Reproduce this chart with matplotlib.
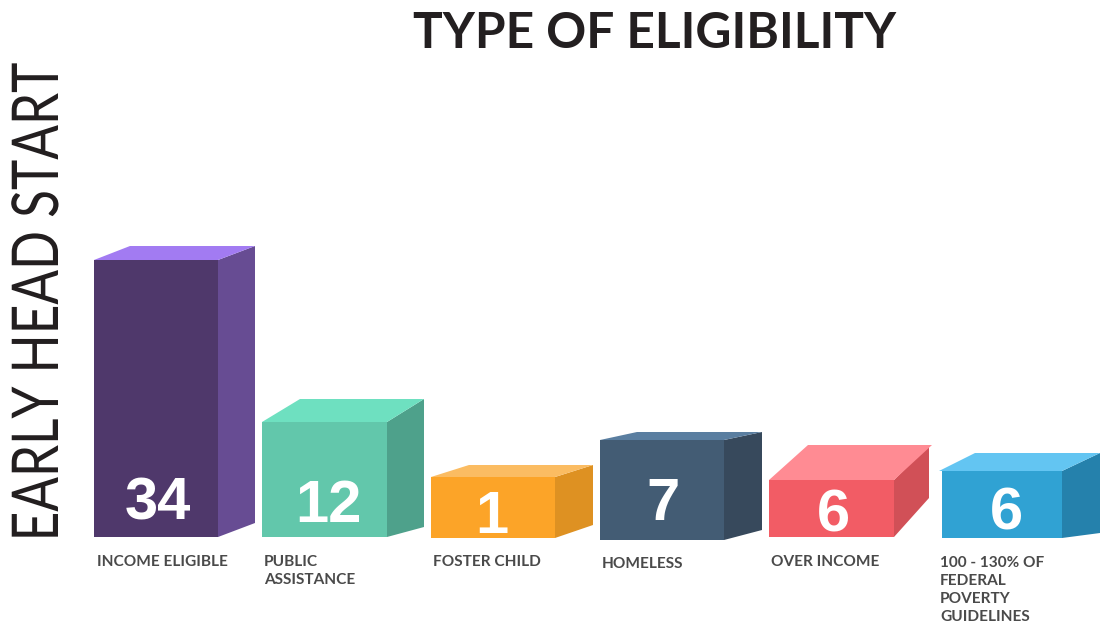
import matplotlib
matplotlib.use("Agg")
import matplotlib.pyplot as plt
import matplotlib.patheffects as pe
from matplotlib.transforms import Affine2D

# values printed on the boxes
categories = ["INCOME ELIGIBLE", "PUBLIC\nASSISTANCE", "FOSTER CHILD", "HOMELESS",
              "OVER INCOME", "100 - 130% OF\nFEDERAL\nPOVERTY\nGUIDELINES"]
counts = [34, 12, 1, 7, 6, 6]

# the boxes are not to scale, so heights are read off the picture (pixels)
box_heights = [277, 115, 61, 100, 57, 67]

### box geometry, in pixels of the picture ###
box_left = [94, 262, 431, 600, 769, 942]
box_width = [124, 125, 124, 124, 125, 120]
box_base = [537, 537, 538, 540, 537, 538]
depth_x = [37, 37, 38, 38, 35, 38]
rise_top = [14, 23, 12, 8, 35, 18]    # how far the back top edge rises
rise_bottom = [14, 10, 13, 10, 39, 5]  # how far the back bottom edge rises
top_shift = [36, 38, 38, 37, 39, 33]  # back left corner of the top face
top_left_tip = [0, 0, 0, 0, 0, 3]     # top face sticks out a bit on the last box
top_right_tip = [0, 0, 0, 0, 3, 0]

front_colors = ["#4F386B", "#62C7AB", "#FCA428", "#435C74", "#F25C65", "#30A2D3"]
side_colors = ["#674C93", "#4EA18B", "#DE9122", "#37495C", "#D15057", "#2581AC"]
top_colors = ["#A27BF2", "#6EE0C0", "#FBBC62", "#5A7EA0", "#FF8B93", "#63C5F2"]

number_x = [158, 328, 492, 663, 833, 1006]
number_y = [520, 522, 533, 520, 532, 529]  # baselines
label_x = [97, 264, 433, 602, 771, 940]
label_y = [562, 562, 562, 564, 562, 563]


# no condensed font installed, so squeeze the rotated text along its length
class Squeeze(pe.AbstractPathEffect):
    def __init__(self, factor, center):
        super().__init__()
        self.factor = factor
        self.center = center

    def draw_path(self, renderer, gc, tpath, affine, rgbFace=None):
        squeeze = Affine2D().translate(0, -self.center).scale(1, self.factor).translate(0, self.center)
        renderer.draw_path(gc, tpath, affine + squeeze, rgbFace)


fig = plt.figure(figsize=(11.02, 6.25), dpi=100)
ax = fig.add_axes([0, 0, 1, 1])
ax.set_xlim(0, 1102)
ax.set_ylim(625, 0)
ax.axis("off")

# front faces
ax.bar(box_left, [-h for h in box_heights], width=box_width, bottom=box_base,
       align="edge", color=front_colors, linewidth=0)

for i in range(len(counts)):
    x0 = box_left[i]
    x1 = x0 + box_width[i]
    x2 = x1 + depth_x[i]
    base = box_base[i]
    top = base - box_heights[i]
    back_top = top - rise_top[i]
    # side face
    ax.fill([x1, x2, x2, x1], [top, back_top, base - rise_bottom[i], base],
            color=side_colors[i], linewidth=0)
    # top face
    ax.fill([x0 - top_left_tip[i], x0 + top_shift[i], x2 + top_right_tip[i], x1],
            [top, back_top, back_top, top], color=top_colors[i], linewidth=0)
    ax.text(number_x[i], number_y[i], str(counts[i]), color="white", fontsize=43,
            fontweight="bold", family="Liberation Sans", ha="center", va="baseline")
    for j, linea in enumerate(categories[i].split("\n")):
        ax.text(label_x[i], label_y[i] + j * 18, linea, color="#4A4A4A", fontsize=11.1,
                fontweight="bold", family="Lato", ha="left", va="center")

ax.text(655, 33, "TYPE OF ELIGIBILITY", color="#231F20", fontsize=35.7, fontweight="bold",
        family="Lato", ha="center", va="center")
ax.text(39.5, 302, "EARLY HEAD START", color="#231F20", fontsize=46.5,
        family="Lato", rotation=90, ha="center", va="center",
        path_effects=[Squeeze(0.794, 625 - 302)])

fig.savefig("out.png", dpi=100)
